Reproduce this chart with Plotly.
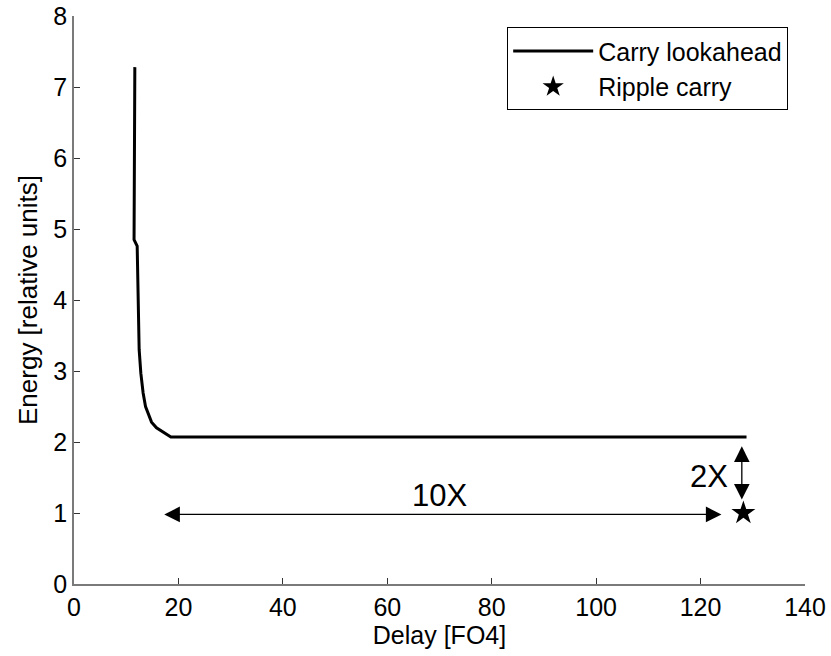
import plotly.graph_objects as go

# Carry lookahead curve (delay in FO4, energy in relative units)
cla_delay = [11.65, 11.5, 12.1, 12.22, 12.41, 12.48, 12.8, 13.24, 13.7, 14.2, 14.85, 15.8, 18.55, 128.8]
cla_energy = [7.28, 4.85, 4.76, 4.10, 3.63, 3.30, 2.97, 2.69, 2.50, 2.39, 2.28, 2.20, 2.07, 2.07]

# Ripple carry point
rc_delay = [128.2]
rc_energy = [1.0]

x_ticks = [0, 20, 40, 60, 80, 100, 120, 140]
y_ticks = [0, 1, 2, 3, 4, 5, 6, 7, 8]

FONT = "Liberation Sans, Arial, sans-serif"

fig = go.Figure()
fig.add_trace(go.Scatter(x=cla_delay, y=cla_energy, mode="lines",
                         line=dict(color="black", width=3), name="Carry lookahead"))
fig.add_trace(go.Scatter(x=rc_delay, y=rc_energy, mode="markers",
                         marker=dict(symbol="star", color="black", size=18), name="Ripple carry"))

# 10X horizontal double arrow
fig.add_annotation(x=124.0, y=0.98, ax=17.0, ay=0.98, xref="x", yref="y", axref="x", ayref="y",
                   showarrow=True, arrowhead=2, arrowside="end+start", arrowsize=2.4,
                   arrowwidth=1.3, arrowcolor="black", text="")
fig.add_annotation(x=70.0, y=1.25, text="10X", showarrow=False,
                   font=dict(size=31, color="black", family=FONT))
# 2X vertical double arrow
fig.add_annotation(x=127.9, y=1.19, ax=127.9, ay=1.96, xref="x", yref="y", axref="x", ayref="y",
                   showarrow=True, arrowhead=2, arrowside="end+start", arrowsize=2.4,
                   arrowwidth=1.3, arrowcolor="black", text="")
fig.add_annotation(x=121.6, y=1.51, text="2X", showarrow=False,
                   font=dict(size=31, color="black", family=FONT))

axis_common = dict(showgrid=False, zeroline=False, showline=True, linecolor="#7a7a7a", linewidth=1.5,
                   ticks="inside", ticklen=6, tickcolor="#333333", tickwidth=1, automargin=False,
                   tickfont=dict(size=25, color="black", family=FONT), mirror=False)

fig.update_xaxes(range=[0, 140], tickvals=x_ticks, ticktext=[str(v) for v in x_ticks],
                 title=dict(text="Delay [FO4]", font=dict(size=25, color="black", family=FONT), standoff=6),
                 **axis_common)
fig.update_yaxes(range=[0, 8], tickvals=y_ticks, ticktext=[str(v) for v in y_ticks],
                 title=dict(text="Energy [relative units]", font=dict(size=26, color="black", family=FONT), standoff=8),
                 **axis_common)

fig.update_layout(
    width=831, height=656,
    margin=dict(l=74, r=26, t=16, b=72),
    plot_bgcolor="white", paper_bgcolor="white",
    legend=dict(x=0.977, y=0.980, xanchor="right", yanchor="top",
                bordercolor="black", borderwidth=1, bgcolor="white",
                font=dict(size=25, color="black", family=FONT),
                itemwidth=80, tracegroupgap=0),
    showlegend=True,
)

fig.write_html("out.html")
